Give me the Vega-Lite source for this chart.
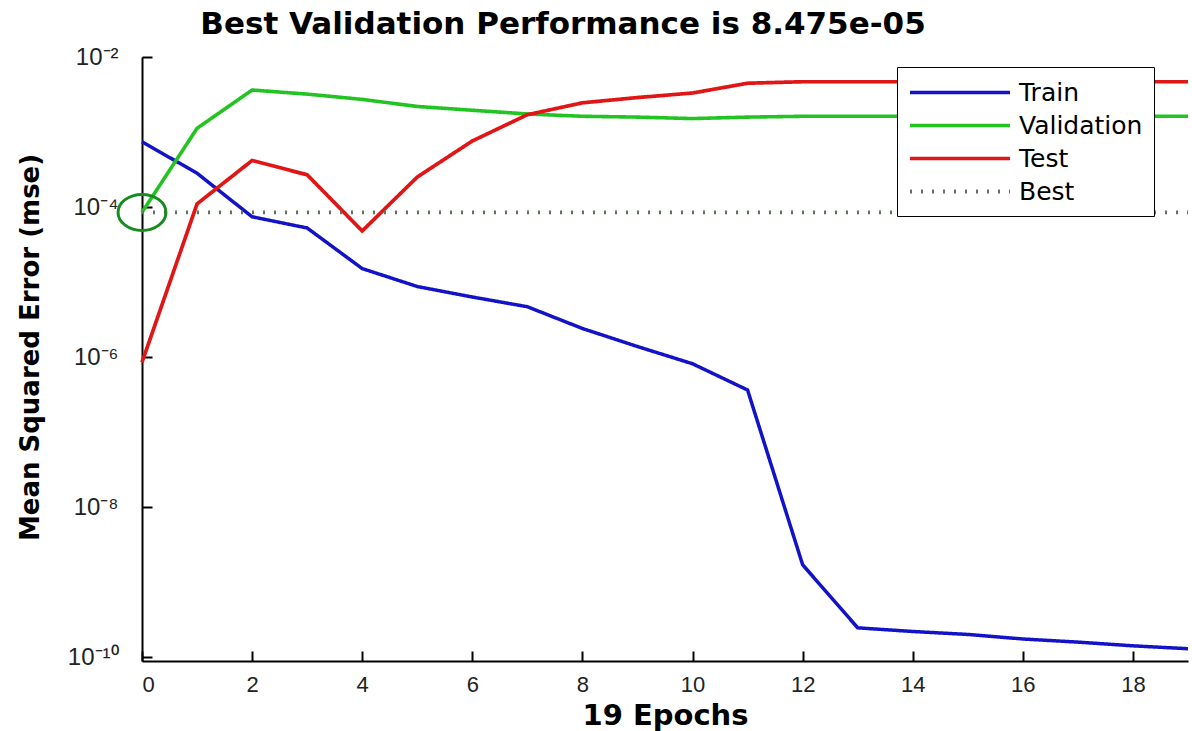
{
  "$schema": "https://vega.github.io/schema/vega-lite/v6.json",
  "width": 1046,
  "height": 604,
  "autosize": "none",
  "padding": {"left": 142, "top": 57, "right": 4, "bottom": 70},
  "background": "white",
  "title": {
    "text": "Best Validation Performance is 8.475e-05",
    "font": "DejaVu Sans",
    "fontSize": 31,
    "fontWeight": "bold",
    "color": "#000000",
    "anchor": "middle",
    "dx": -102,
    "offset": 4
  },
  "config": {
    "view": {"stroke": null},
    "axis": {
      "grid": false,
      "domainColor": "#000000",
      "domainWidth": 2,
      "tickColor": "#000000",
      "tickWidth": 2,
      "labelFont": "Liberation Sans",
      "labelFontSize": 22,
      "labelColor": "#222222",
      "titleFont": "DejaVu Sans",
      "titleFontWeight": "bold",
      "titleColor": "#000000"
    }
  },
  "datasets": {
    "perf": [
      {"epoch": 0, "mse": 7.41e-4, "series": "Train"},
      {"epoch": 1, "mse": 2.82e-4, "series": "Train"},
      {"epoch": 2, "mse": 7.41e-5, "series": "Train"},
      {"epoch": 3, "mse": 5.25e-5, "series": "Train"},
      {"epoch": 4, "mse": 1.51e-5, "series": "Train"},
      {"epoch": 5, "mse": 8.71e-6, "series": "Train"},
      {"epoch": 6, "mse": 6.31e-6, "series": "Train"},
      {"epoch": 7, "mse": 4.68e-6, "series": "Train"},
      {"epoch": 8, "mse": 2.40e-6, "series": "Train"},
      {"epoch": 9, "mse": 1.38e-6, "series": "Train"},
      {"epoch": 10, "mse": 8.13e-7, "series": "Train"},
      {"epoch": 11, "mse": 3.63e-7, "series": "Train"},
      {"epoch": 12, "mse": 1.70e-9, "series": "Train"},
      {"epoch": 13, "mse": 2.45e-10, "series": "Train"},
      {"epoch": 14, "mse": 2.19e-10, "series": "Train"},
      {"epoch": 15, "mse": 2.00e-10, "series": "Train"},
      {"epoch": 16, "mse": 1.74e-10, "series": "Train"},
      {"epoch": 17, "mse": 1.58e-10, "series": "Train"},
      {"epoch": 18, "mse": 1.41e-10, "series": "Train"},
      {"epoch": 19, "mse": 1.29e-10, "series": "Train"},
      {"epoch": 0, "mse": 8.475e-5, "series": "Validation"},
      {"epoch": 1, "mse": 1.12e-3, "series": "Validation"},
      {"epoch": 2, "mse": 3.63e-3, "series": "Validation"},
      {"epoch": 3, "mse": 3.20e-3, "series": "Validation"},
      {"epoch": 4, "mse": 2.72e-3, "series": "Validation"},
      {"epoch": 5, "mse": 2.19e-3, "series": "Validation"},
      {"epoch": 6, "mse": 1.95e-3, "series": "Validation"},
      {"epoch": 7, "mse": 1.74e-3, "series": "Validation"},
      {"epoch": 8, "mse": 1.62e-3, "series": "Validation"},
      {"epoch": 9, "mse": 1.58e-3, "series": "Validation"},
      {"epoch": 10, "mse": 1.51e-3, "series": "Validation"},
      {"epoch": 11, "mse": 1.58e-3, "series": "Validation"},
      {"epoch": 12, "mse": 1.62e-3, "series": "Validation"},
      {"epoch": 13, "mse": 1.62e-3, "series": "Validation"},
      {"epoch": 14, "mse": 1.62e-3, "series": "Validation"},
      {"epoch": 15, "mse": 1.62e-3, "series": "Validation"},
      {"epoch": 16, "mse": 1.62e-3, "series": "Validation"},
      {"epoch": 17, "mse": 1.62e-3, "series": "Validation"},
      {"epoch": 18, "mse": 1.62e-3, "series": "Validation"},
      {"epoch": 19, "mse": 1.62e-3, "series": "Validation"},
      {"epoch": 0, "mse": 8.5e-7, "series": "Test"},
      {"epoch": 1, "mse": 1.10e-4, "series": "Test"},
      {"epoch": 2, "mse": 4.17e-4, "series": "Test"},
      {"epoch": 3, "mse": 2.69e-4, "series": "Test"},
      {"epoch": 4, "mse": 4.79e-5, "series": "Test"},
      {"epoch": 5, "mse": 2.51e-4, "series": "Test"},
      {"epoch": 6, "mse": 7.59e-4, "series": "Test"},
      {"epoch": 7, "mse": 1.70e-3, "series": "Test"},
      {"epoch": 8, "mse": 2.45e-3, "series": "Test"},
      {"epoch": 9, "mse": 2.88e-3, "series": "Test"},
      {"epoch": 10, "mse": 3.31e-3, "series": "Test"},
      {"epoch": 11, "mse": 4.47e-3, "series": "Test"},
      {"epoch": 12, "mse": 4.68e-3, "series": "Test"},
      {"epoch": 13, "mse": 4.68e-3, "series": "Test"},
      {"epoch": 14, "mse": 4.68e-3, "series": "Test"},
      {"epoch": 15, "mse": 4.68e-3, "series": "Test"},
      {"epoch": 16, "mse": 4.68e-3, "series": "Test"},
      {"epoch": 17, "mse": 4.68e-3, "series": "Test"},
      {"epoch": 18, "mse": 4.68e-3, "series": "Test"},
      {"epoch": 19, "mse": 4.68e-3, "series": "Test"},
      {"epoch": 0, "mse": 8.475e-5, "series": "Best"},
      {"epoch": 19, "mse": 8.475e-5, "series": "Best"}
    ],
    "bestpoint": [
      {"epoch": 0, "mse": 8.475e-5}
    ]
  },
  "layer": [
    {
      "data": {"name": "perf"},
      "mark": {"type": "line", "strokeCap": "butt"},
      "encoding": {
        "x": {
          "field": "epoch",
          "type": "quantitative",
          "scale": {"domain": [0, 19], "nice": false, "zero": false},
          "axis": {
            "values": [0, 2, 4, 6, 8, 10, 12, 14, 16, 18],
            "format": "d",
            "title": "19 Epochs",
            "titleFontSize": 29,
            "titleY": 40,
            "titleBaseline": "top",
            "tickSize": -10,
            "labelPadding": 23
          }
        },
        "y": {
          "field": "mse",
          "type": "quantitative",
          "scale": {"type": "log", "domain": [8.85e-11, 1e-2], "nice": false},
          "axis": {
            "values": [1e-10, 1e-8, 1e-6, 1e-4, 1e-2],
            "labelExpr": "datum.value < 1e-9 ? '10⁻¹⁰' : datum.value < 1e-7 ? '10⁻⁸' : datum.value < 1e-5 ? '10⁻⁶' : datum.value < 1e-3 ? '10⁻⁴' : '10⁻²'",
            "labelFontSize": 24,
            "title": "Mean Squared Error  (mse)",
            "titleFontSize": 26,
            "titleX": -112,
            "titleY": 290,
            "titleBaseline": "middle",
            "tickSize": -10,
            "labelPadding": 34
          }
        },
        "color": {
          "field": "series",
          "type": "nominal",
          "scale": {
            "domain": ["Train", "Validation", "Test", "Best"],
            "range": ["#1212c8", "#22c322", "#e01515", "#5f735f"]
          },
          "legend": {
            "title": null,
            "orient": "none",
            "legendX": 755,
            "legendY": 10,
            "symbolType": "M-1,0H7",
            "symbolSize": 625,
            "symbolStrokeWidth": 3,
            "labelFont": "DejaVu Sans",
            "labelFontSize": 25,
            "labelColor": "#000000",
            "labelOffset": 82,
            "strokeColor": "#000000",
            "fillColor": "#ffffff",
            "padding": 11,
            "rowPadding": 5
          }
        },
        "strokeDash": {
          "field": "series",
          "type": "nominal",
          "scale": {
            "domain": ["Train", "Validation", "Test", "Best"],
            "range": [[1, 0], [1, 0], [1, 0], [2, 9]]
          },
          "legend": {
            "title": null,
            "orient": "none",
            "legendX": 755,
            "legendY": 10,
            "symbolType": "M-1,0H7",
            "symbolSize": 625,
            "symbolStrokeWidth": 3,
            "labelFont": "DejaVu Sans",
            "labelFontSize": 25,
            "labelColor": "#000000",
            "labelOffset": 82,
            "strokeColor": "#000000",
            "fillColor": "#ffffff",
            "padding": 11,
            "rowPadding": 5
          }
        },
        "strokeWidth": {
          "field": "series",
          "type": "nominal",
          "scale": {
            "domain": ["Train", "Validation", "Test", "Best"],
            "range": [3.5, 3.8, 4.2, 1.8]
          },
          "legend": null
        }
      }
    },
    {
      "data": {"name": "bestpoint"},
      "mark": {
        "type": "point",
        "shape": "M-1.33,0A1.33,1,0,1,0,1.33,0A1.33,1,0,1,0,-1.33,0Z",
        "size": 1296,
        "filled": false,
        "stroke": "#188a22",
        "strokeWidth": 3,
        "opacity": 1
      },
      "encoding": {
        "x": {"field": "epoch", "type": "quantitative"},
        "y": {"field": "mse", "type": "quantitative"}
      }
    }
  ]
}
